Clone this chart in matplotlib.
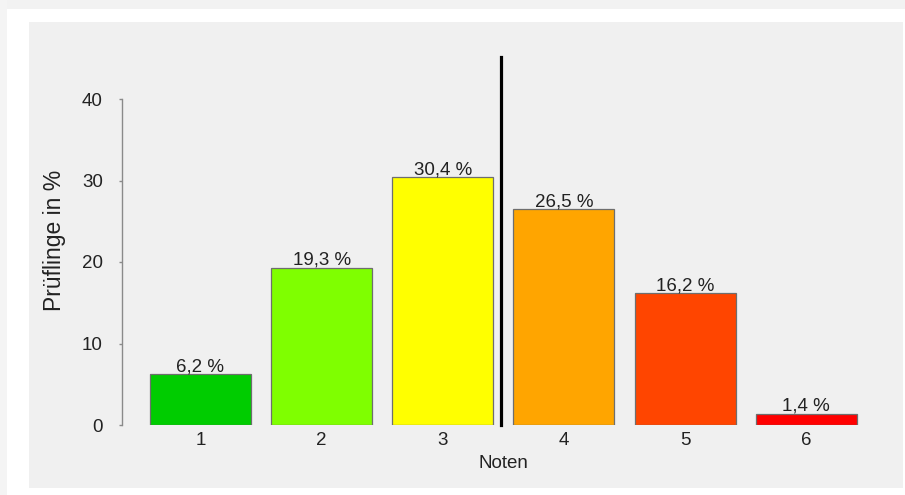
import matplotlib
matplotlib.use('Agg')
import matplotlib.pyplot as plt
from matplotlib.patches import Rectangle
import numpy as np

plt.rcParams['font.family'] = ['Liberation Sans', 'DejaVu Sans']

# grade distribution
noten     = ['1', '2', '3', '4', '5', '6']
anteile   = [6.2, 19.3, 30.4, 26.5, 16.2, 1.4]
farben    = ['#00CC00', '#7FFF00', '#FFFF00', '#FFA500', '#FF4500', '#FF0000']
y_ticks   = [0, 10, 20, 30, 40]
trennlinie = 3.68     # pass / fail divider between grade 3 and 4
linie_oben = 45.2

W, H = 905, 495
fig = plt.figure(figsize=(W / 100, H / 100), dpi=100)
fig.patch.set_facecolor('white')

# page background: soft shadow strips and grey panel
fig.patches.append(Rectangle((0, 1 - 9 / H), 1, 9 / H, transform=fig.transFigure,
                             facecolor='#f2f2f2', edgecolor='none', zorder=-10))
fig.patches.append(Rectangle((0, 0), 7 / W, 1, transform=fig.transFigure,
                             facecolor='#f4f4f4', edgecolor='none', zorder=-10))
fig.patches.append(Rectangle((29 / W, 1 - 488 / H), (903 - 29) / W, (488 - 22) / H,
                             transform=fig.transFigure, facecolor='#f0f0f0',
                             edgecolor='none', zorder=-10))

ax_left, ax_right = 121.7, 885.0
ax_top, ax_bottom = 40.0, 425.0
ax = fig.add_axes([ax_left / W, 1 - ax_bottom / H,
                   (ax_right - ax_left) / W, (ax_bottom - ax_top) / H])
ax.set_facecolor('none')

x = 0.7 + 1.2 * np.arange(len(anteile))
ax.bar(x, anteile, width=1.0, color=farben, edgecolor='#6e6e6e', linewidth=0.9, zorder=2)

for xi, v in zip(x, anteile):
    ax.text(xi, v + 0.35, f'{v:.1f}'.replace('.', ',') + ' %', ha='center',
            va='baseline', fontsize=13.5, color='#222222', zorder=3)

ax.plot([trennlinie, trennlinie], [0, linie_oben], color='black', linewidth=2.3,
        clip_on=False, zorder=3)

ax.set_xlim(-0.08, 7.48)
ax.set_ylim(0, (ax_bottom - ax_top) / 8.15)

for s in ['top', 'right', 'bottom']:
    ax.spines[s].set_visible(False)
ax.spines['left'].set_bounds(0, 40)
ax.spines['left'].set_color('#8a8a8a')
ax.spines['left'].set_linewidth(1.0)

ax.set_yticks(y_ticks)
ax.set_yticklabels([str(t) for t in y_ticks], fontsize=13.5, color='#222222')
ax.tick_params(axis='y', direction='out', length=2.5, width=1.0, color='#8a8a8a', pad=11)

ax.set_xticks(x)
ax.set_xticklabels(noten, fontsize=13.5, color='#222222')
ax.tick_params(axis='x', length=0, pad=5)

ax.set_xlabel('Noten', fontsize=13.5, color='#222222', labelpad=4)
fig.text(55 / W, 1 - 240 / H, 'Prüflinge in %', rotation=90, ha='center', va='center',
         fontsize=16.5, color='#222222')

fig.savefig('out.png', dpi=100)
